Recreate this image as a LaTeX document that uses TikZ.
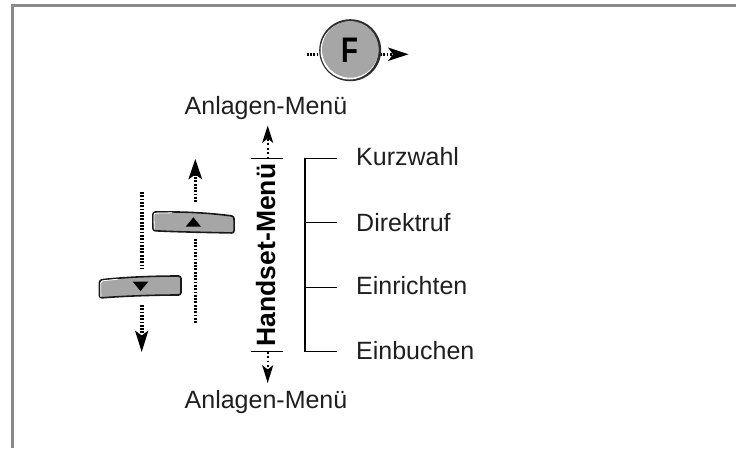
\documentclass[tikz,border=0pt]{standalone}
\usepackage{fontspec}
\setmainfont{Liberation Sans}
\definecolor{frameg}{HTML}{8A8A8A}
\definecolor{keyg}{HTML}{A6A6A6}
\tikzset{
  lbl/.style={inner sep=0pt,anchor=base west,font=\fontsize{25}{28}\selectfont,text=black!88},
  dots/.style={line width=3.6pt,dash pattern=on 1.8pt off 1.5pt,black},
  fine/.style={line width=2pt,dash pattern=on 1.8pt off 2.6pt,black},
  bracket/.style={line width=1.4pt,black},
  tip/.style={fill=black,draw=none},
  keyshape/.style={fill=keyg,draw=black!90,line width=1.6pt,rounded corners=2.5pt},
  keylight/.style={white,line width=.8pt,rounded corners=2pt},
}
\begin{document}
\begin{tikzpicture}[x=1pt,y=-1pt]
\useasboundingbox (0,0) rectangle (736,448);
\fill[white] (0,0) rectangle (736,448);
\draw[frameg,line width=3pt] (12,448) -- (12,5) -- (736,5);
% F key
\draw[dots] (306.7,54.3) -- (320,54.3);
\draw[dots] (380,54.3) -- (395,54.3);
\fill[tip] (388,47.5) -- (408.5,54.3) -- (388,61) -- (393,54.3) -- cycle;
\node[circle,minimum size=62pt,inner sep=0pt,fill=black!82] (fkey) at (350.2,50.2) {};
\fill[white] (349.4,50.6) circle[radius=28.9];
\fill[keyg] (350.3,49.4) circle[radius=28.3];
\node[inner sep=0pt,xscale=.78,font=\fontsize{35.5}{38}\selectfont\bfseries] at (350,50.5) {F};
% labels
\node[lbl] (anltop) at (184.5,114.5) {Anlagen-Menü};
\node[lbl] (anlbot) at (184.5,408) {Anlagen-Menü};
\node[inner sep=0pt,rotate=90,anchor=base,font=\fontsize{26.5}{28}\selectfont\bfseries] (hs) at (275,255) {Handset-Menü};
% handset ticks and arrows
\coordinate (ta) at (250.7,158.3); \coordinate (tb) at (282.7,158.3);
\coordinate (ba) at (250.7,351.7); \coordinate (bb) at (282.7,351.7);
\coordinate (tm) at (267.7,158.3); \coordinate (bm) at (267.7,351.7);
\coordinate (tt) at (267.7,125.7); \coordinate (bt) at (267.7,383);
\draw[bracket] (ta) -- (tb);
\draw[bracket] (ba) -- (bb);
\draw[fine] (tm) -- (267.7,136);
\fill[tip] (tt) -- (273.3,143) -- (267.7,138.5) -- (262.1,143) -- cycle;
\draw[fine] (bm) -- (267.7,372);
\fill[tip] (bt) -- (273.3,365) -- (267.7,369.5) -- (262.1,365) -- cycle;
% menu bracket
\coordinate (b1) at (305,158.3); \coordinate (b2) at (305,222.7);
\coordinate (b3) at (305,287.3); \coordinate (b4) at (305,351.7);
\draw[bracket] (337.3,158.3) -- (b1) -- (b4) -- (337.3,351.7);
\draw[bracket] (b2) -- (337.3,222.7);
\draw[bracket] (b3) -- (337.3,287.3);
\node[lbl] (k) at (356,165) {Kurzwahl};
\node[lbl] (d) at (356,231) {Direktruf};
\node[lbl] (e) at (356,294.5) {Einrichten};
\node[lbl] (eb) at (356,359.5) {Einbuchen};
% arrows left
\draw[dots] (195.3,323) -- (195.3,239);
\draw[dots] (195.3,202) -- (195.3,174);
\fill[tip] (195.3,159) -- (188.3,179.5) -- (195.3,174.5) -- (202.3,179.5) -- cycle;
\draw[dots] (141.7,192) -- (141.7,268);
\draw[dots] (141.7,305) -- (141.7,336);
\fill[tip] (141.7,352) -- (135,330.5) -- (141.7,335.5) -- (148.4,330.5) -- cycle;
% keys
\path[keyshape]
  (152.9,212) .. controls (185,211.5) and (210,213) .. (234,216.2) -- (234.2,233) .. controls (210,232.5) and (180,232) .. (152.9,230.7) -- cycle;
\draw[keylight] (154.3,229.5) -- (153.9,213.2) -- (172,212.8);
\fill[tip] (185.7,226.7) -- (193.4,217.3) -- (201,226.7) -- cycle;
\path[keyshape]
  (99.5,280) .. controls (125,277) and (155,276) .. (181,276) -- (181,295) .. controls (155,295) and (125,296) .. (99.5,298) -- cycle;
\draw[keylight] (100.9,296.8) -- (100.6,281) -- (118,279.2);
\fill[tip] (132.7,281.7) -- (148.3,281.7) -- (140.5,291) -- cycle;
\end{tikzpicture}
\end{document}
